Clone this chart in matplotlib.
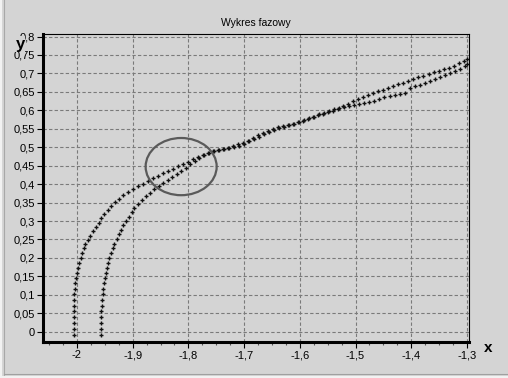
import numpy as np
from matplotlib import pyplot as plt
from matplotlib.patches import Ellipse
from matplotlib.lines import Line2D
from matplotlib.ticker import FixedLocator, FixedFormatter, MultipleLocator

plt.rcParams['font.family'] = ['Liberation Sans', 'DejaVu Sans']

# krzywa 1 (start przy x=-2)
x1 = [-2.006, -2.006, -2.006, -2.006, -2.006, -2.006, -2.006, -2.005, -2.004, -2.003,
      -2.002, -2.000, -1.998, -1.996, -1.993, -1.991, -1.988, -1.985, -1.981, -1.976,
      -1.971, -1.966, -1.961, -1.956, -1.951, -1.945, -1.939, -1.932, -1.925, -1.917,
      -1.909, -1.900, -1.891, -1.882, -1.873, -1.864, -1.855, -1.846, -1.837, -1.828,
      -1.819, -1.810, -1.801, -1.792, -1.783, -1.774, -1.765, -1.756, -1.747, -1.738,
      -1.729, -1.720, -1.711, -1.702, -1.693, -1.684, -1.675, -1.666, -1.657, -1.648,
      -1.639, -1.630, -1.621, -1.612, -1.603, -1.594, -1.585, -1.576, -1.567, -1.558,
      -1.549, -1.540, -1.531, -1.522, -1.513, -1.504, -1.495, -1.486, -1.477, -1.468,
      -1.459, -1.450, -1.441, -1.432, -1.423, -1.414, -1.405, -1.396, -1.387, -1.378,
      -1.369, -1.360, -1.351, -1.342, -1.333, -1.324, -1.315, -1.306, -1.300]
y1 = [-0.009, 0.007, 0.023, 0.039, 0.055, 0.071, 0.087, 0.102, 0.117, 0.132,
      0.146, 0.160, 0.173, 0.186, 0.200, 0.213, 0.226, 0.238, 0.249, 0.260,
      0.272, 0.283, 0.295, 0.307, 0.318, 0.330, 0.341, 0.351, 0.361, 0.370,
      0.378, 0.386, 0.394, 0.401, 0.409, 0.416, 0.423, 0.430, 0.436, 0.442,
      0.448, 0.454, 0.461, 0.467, 0.473, 0.479, 0.484, 0.489, 0.493, 0.496,
      0.499, 0.503, 0.508, 0.512, 0.518, 0.524, 0.532, 0.539, 0.545, 0.550,
      0.554, 0.558, 0.561, 0.564, 0.567, 0.571, 0.576, 0.582, 0.587, 0.591,
      0.595, 0.599, 0.604, 0.611, 0.617, 0.624, 0.630, 0.636, 0.641, 0.646,
      0.651, 0.656, 0.660, 0.665, 0.670, 0.675, 0.680, 0.685, 0.689, 0.694,
      0.698, 0.703, 0.707, 0.711, 0.716, 0.721, 0.727, 0.733, 0.740]

# krzywa 2 (start przy x=-1.957)
x2 = [-1.957, -1.957, -1.957, -1.956, -1.956, -1.955, -1.955, -1.954, -1.953, -1.952,
      -1.950, -1.948, -1.946, -1.944, -1.942, -1.939, -1.936, -1.933, -1.929, -1.925,
      -1.921, -1.917, -1.912, -1.907, -1.902, -1.897, -1.891, -1.884, -1.877, -1.869,
      -1.861, -1.853, -1.845, -1.837, -1.829, -1.821, -1.813, -1.805, -1.797, -1.789,
      -1.781, -1.772, -1.763, -1.754, -1.745, -1.736, -1.727, -1.718, -1.709, -1.700,
      -1.691, -1.682, -1.673, -1.664, -1.655, -1.646, -1.637, -1.628, -1.619, -1.610,
      -1.601, -1.592, -1.583, -1.574, -1.565, -1.556, -1.547, -1.538, -1.529, -1.520,
      -1.511, -1.502, -1.493, -1.484, -1.475, -1.466, -1.457, -1.448, -1.439, -1.430,
      -1.421, -1.412, -1.403, -1.394, -1.385, -1.376, -1.367, -1.358, -1.349, -1.340,
      -1.331, -1.322, -1.313, -1.304, -1.300]
y2 = [-0.009, 0.007, 0.023, 0.039, 0.055, 0.071, 0.087, 0.102, 0.117, 0.131,
      0.145, 0.159, 0.173, 0.187, 0.200, 0.213, 0.226, 0.239, 0.252, 0.264,
      0.276, 0.288, 0.300, 0.312, 0.324, 0.336, 0.347, 0.358, 0.368, 0.377,
      0.386, 0.394, 0.403, 0.411, 0.419, 0.427, 0.436, 0.445, 0.454, 0.463,
      0.471, 0.478, 0.485, 0.490, 0.492, 0.494, 0.497, 0.500, 0.503, 0.509,
      0.516, 0.522, 0.529, 0.536, 0.541, 0.546, 0.552, 0.556, 0.560, 0.564,
      0.568, 0.573, 0.578, 0.583, 0.589, 0.593, 0.598, 0.603, 0.607, 0.610,
      0.613, 0.615, 0.618, 0.620, 0.623, 0.626, 0.630, 0.635, 0.639, 0.641,
      0.643, 0.648, 0.660, 0.666, 0.669, 0.675, 0.680, 0.686, 0.691, 0.696,
      0.701, 0.707, 0.713, 0.720, 0.726]

xticks = [-2.0, -1.9, -1.8, -1.7, -1.6, -1.5, -1.4, -1.3]
xlabels = ['-2', '-1,9', '-1,8', '-1,7', '-1,6', '-1,5', '-1,4', '-1,3']
yticks = [0, 0.05, 0.1, 0.15, 0.2, 0.25, 0.3, 0.35, 0.4, 0.45, 0.5, 0.55, 0.6, 0.65, 0.7, 0.75, 0.8]
ylabels = ['0', '0,05', '0,1', '0,15', '0,2', '0,25', '0,3', '0,35', '0,4', '0,45',
           '0,5', '0,55', '0,6', '0,65', '0,7', '0,75', '0,8']

bg = '#d4d4d4'
fig = plt.figure(figsize=(5.08, 3.78), dpi=100, facecolor=bg)
ax = fig.add_axes([43/508, 36.3/378, 426/508, 307.4/378], facecolor=bg)

ax.plot(x1, y1, '+', color='#111111', ms=3.4, mew=1.0)
ax.plot(x2, y2, '+', color='#111111', ms=3.4, mew=1.0)

# okrag
ax.add_patch(Ellipse((-1.813, 0.4475), 0.1275, 0.155, fill=False,
                     ec='#5a5a5a', lw=1.6, zorder=5))

ax.set_xlim(-2.061, -1.2963)
ax.set_ylim(-0.027, 0.806)
ax.xaxis.set_major_locator(FixedLocator(xticks))
ax.xaxis.set_major_formatter(FixedFormatter(xlabels))
ax.xaxis.set_minor_locator(MultipleLocator(0.025))
ax.yaxis.set_major_locator(FixedLocator(yticks))
ax.yaxis.set_major_formatter(FixedFormatter(ylabels))

ax.grid(True, which='major', color='#7a7a7a', ls=(0, (3, 2)), lw=0.8)
ax.set_axisbelow(True)
ax.tick_params(which='major', length=4, width=0.8, pad=2, labelsize=8, colors='black')
ax.tick_params(axis='x', which='minor', length=2.5, width=0.8, color='#555555')
ax.tick_params(axis='y', which='minor', length=0)

ax.spines['left'].set_linewidth(2.2)
ax.spines['bottom'].set_linewidth(2.2)
ax.spines['top'].set_linewidth(0.8)
ax.spines['right'].set_linewidth(0.8)

ax.set_title('Wykres fazowy', fontsize=7.5, pad=6)

# etykiety osi
fig.text(20/508, 1 - 44/378, 'y', fontsize=12, fontweight='bold', ha='center', va='center',
         bbox=dict(boxstyle='square,pad=0.02', fc=bg, ec='none'))
fig.text(488/508, 1 - 348/378, 'x', fontsize=11, fontweight='bold', ha='center', va='center')

# ramka panelu
fig.add_artist(Line2D([1/508, 1/508], [0, 1], color='#f2f2f2', lw=1.5))
fig.add_artist(Line2D([3.5/508, 3.5/508], [3/378, 1], color='#a8a8a8', lw=0.8))
fig.add_artist(Line2D([3.5/508, 1], [4/378, 4/378], color='#a0a0a0', lw=0.8))
fig.add_artist(Line2D([0, 1], [1.5/378, 1.5/378], color='#f2f2f2', lw=1.5))

fig.savefig('out.png', dpi=100, facecolor=bg)
